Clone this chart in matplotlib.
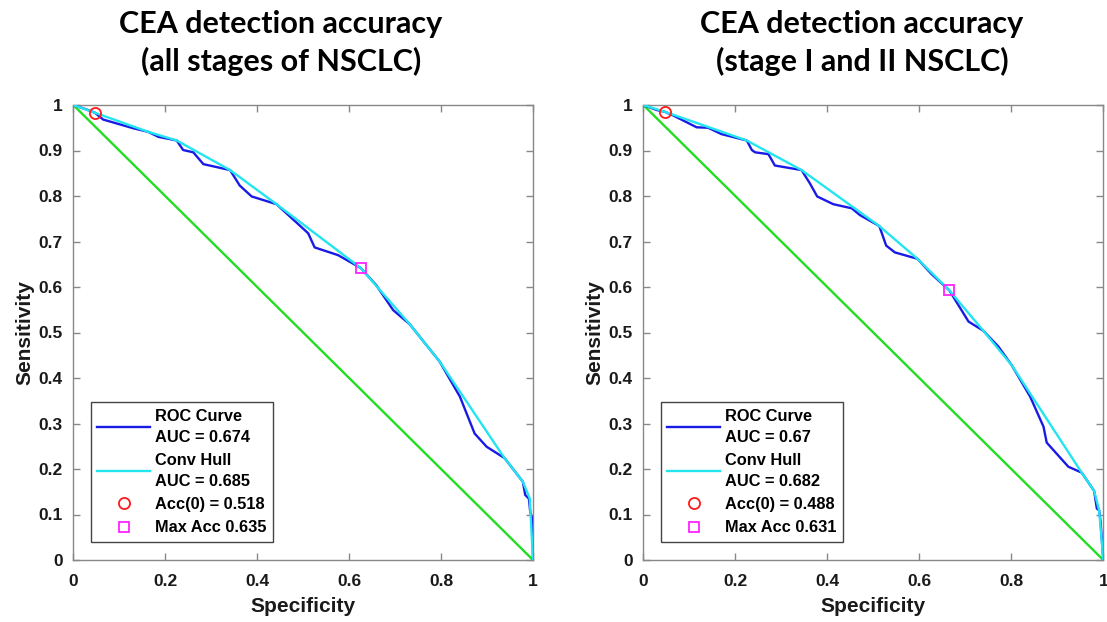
import matplotlib
matplotlib.use("Agg")
import matplotlib.pyplot as plt
from matplotlib.lines import Line2D

# ---------------- data ----------------
roc_x_all = [0.0, 0.029, 0.047, 0.065, 0.130, 0.163, 0.185, 0.225, 0.239, 0.261, 0.283,
             0.341, 0.362, 0.388, 0.442, 0.511, 0.525, 0.576, 0.625, 0.659, 0.696, 0.732,
             0.797, 0.841, 0.873, 0.899, 0.938, 0.978, 0.983, 0.991, 0.994, 0.999, 1.0]
roc_y_all = [1.0, 0.990, 0.983, 0.968, 0.949, 0.941, 0.930, 0.922, 0.901, 0.896, 0.870,
             0.857, 0.823, 0.799, 0.782, 0.718, 0.687, 0.670, 0.642, 0.604, 0.549, 0.518,
             0.436, 0.359, 0.278, 0.249, 0.224, 0.172, 0.143, 0.135, 0.106, 0.088, 0.0]
hull_x_all = [0.0, 0.047, 0.163, 0.225, 0.341, 0.442, 0.625, 0.732, 0.797, 0.938, 0.978, 0.993, 1.0]
hull_y_all = [1.0, 0.983, 0.941, 0.922, 0.857, 0.782, 0.642, 0.518, 0.436, 0.224, 0.172, 0.135, 0.0]
acc0_all = (0.047, 0.983)
maxacc_all = (0.625, 0.642)
labels_all = ["ROC Curve\nAUC = 0.674", "Conv Hull\nAUC = 0.685", "Acc(0) = 0.518", "Max Acc 0.635"]

roc_x_early = [0.0, 0.029, 0.047, 0.065, 0.116, 0.141, 0.170, 0.225, 0.236, 0.243, 0.272,
               0.286, 0.344, 0.362, 0.378, 0.413, 0.453, 0.471, 0.513, 0.528, 0.547, 0.596,
               0.627, 0.665, 0.707, 0.739, 0.772, 0.801, 0.841, 0.870, 0.877, 0.924, 0.953,
               0.980, 0.986, 0.991, 0.994, 1.0]
roc_y_early = [1.0, 0.989, 0.985, 0.977, 0.951, 0.950, 0.936, 0.922, 0.901, 0.896, 0.892,
               0.867, 0.857, 0.828, 0.799, 0.782, 0.773, 0.758, 0.734, 0.691, 0.676, 0.662,
               0.628, 0.593, 0.524, 0.504, 0.469, 0.428, 0.359, 0.293, 0.258, 0.205, 0.192,
               0.152, 0.113, 0.109, 0.084, 0.0]
hull_x_early = [0.0, 0.047, 0.225, 0.344, 0.513, 0.596, 0.665, 0.739, 0.801, 0.953, 0.980, 0.991, 1.0]
hull_y_early = [1.0, 0.985, 0.922, 0.857, 0.734, 0.662, 0.593, 0.504, 0.428, 0.192, 0.152, 0.109, 0.0]
acc0_early = (0.047, 0.985)
maxacc_early = (0.665, 0.593)
labels_early = ["ROC Curve\nAUC = 0.67", "Conv Hull\nAUC = 0.682", "Acc(0) = 0.488", "Max Acc 0.631"]

title_line1 = ["CEA detection accuracy", "CEA detection accuracy"]
title_line2 = ["(all stages of NSCLC)", "(stage I and II NSCLC)"]
x_ticks = [0, 0.2, 0.4, 0.6, 0.8, 1]
x_tick_labels = ["0", "0.2", "0.4", "0.6", "0.8", "1"]
y_ticks = [0, 0.1, 0.2, 0.3, 0.4, 0.5, 0.6, 0.7, 0.8, 0.9, 1]
y_tick_labels = ["0", "0.1", "0.2", "0.3", "0.4", "0.5", "0.6", "0.7", "0.8", "0.9", "1"]

# ---------------- styling ----------------
plt.rcParams['font.family'] = ['Liberation Sans', 'DejaVu Sans']
C_ROC = '#1a1ae6'
C_HULL = '#22e5f0'
C_DIAG = '#22dd22'
C_ACC0 = '#ff1a1a'
C_MAX = '#ff22ff'
SPINE = '#888888'
TXT = '#1a1a1a'

fig = plt.figure(figsize=(11.07, 6.22), dpi=100)
W, H = 1107, 622
positions = [(73.3, 533.0), (643.3, 1103.3)]
title_cx = [281, 862]

panels = [
    (roc_x_all, roc_y_all, hull_x_all, hull_y_all, acc0_all, maxacc_all, labels_all),
    (roc_x_early, roc_y_early, hull_x_early, hull_y_early, acc0_early, maxacc_early, labels_early),
]

for i, (rx, ry, hx, hy, a0, ma, labs) in enumerate(panels):
    x0, x1 = positions[i]
    ax = fig.add_axes([x0 / W, (H - 560) / H, (x1 - x0) / W, 455 / H])
    ax.plot([0, 1], [1, 0], color=C_DIAG, lw=1.7, zorder=2)
    ax.plot(rx, ry, color=C_ROC, lw=1.7, zorder=3)
    ax.plot(hx, hy, color=C_HULL, lw=1.7, zorder=4)
    ax.plot([a0[0]], [a0[1]], 'o', mfc='none', mec=C_ACC0, ms=8, mew=1.3, zorder=5)
    ax.plot([ma[0]], [ma[1]], 's', mfc='none', mec=C_MAX, ms=7, mew=1.3, zorder=5)
    ax.set_xlim(0, 1)
    ax.set_ylim(0, 1)
    ax.set_xticks(x_ticks)
    ax.set_xticklabels(x_tick_labels)
    ax.set_yticks(y_ticks)
    ax.set_yticklabels(y_tick_labels)
    ax.tick_params(direction='in', length=5, width=1, color=SPINE, top=True, right=True,
                   labelsize=12.5, labelcolor=TXT)
    ax.tick_params(axis='x', pad=10)
    ax.tick_params(axis='y', pad=7.5)
    for lab in ax.get_xticklabels() + ax.get_yticklabels():
        lab.set_fontweight('bold')
    for sp in ax.spines.values():
        sp.set_color(SPINE)
        sp.set_linewidth(1.0)
    ax.set_xlabel("Specificity", fontsize=15, fontweight='bold', color=TXT, labelpad=6)
    ax.set_ylabel("Sensitivity", fontsize=15, fontweight='bold', color=TXT, labelpad=3)

    handles = [
        Line2D([], [], color=C_ROC, lw=1.7),
        Line2D([], [], color=C_HULL, lw=1.7),
        Line2D([], [], ls='none', marker='o', mfc='none', mec=C_ACC0, ms=8, mew=1.3),
        Line2D([], [], ls='none', marker='s', mfc='none', mec=C_MAX, ms=7, mew=1.3),
    ]
    leg = ax.legend(handles, labs, loc='lower left', bbox_to_anchor=(0.038, 0.040),
                    borderaxespad=0, fancybox=False, framealpha=1, edgecolor='#444444',
                    prop={'family': 'Liberation Sans', 'weight': 'bold', 'size': 11.8},
                    handlelength=3.2, handletextpad=0.3, labelspacing=0.5,
                    borderpad=0.4)
    for t in leg.get_texts():
        t.set_linespacing(1.5)
    leg.get_frame().set_linewidth(1.0)

    fig.text(title_cx[i] / W, 1 - 33 / H, title_line1[i], ha='center', va='baseline',
             fontsize=22, fontweight='bold', family=['Lato', 'DejaVu Sans'], color='black')
    fig.text(title_cx[i] / W, 1 - 71 / H, title_line2[i], ha='center', va='baseline',
             fontsize=22, fontweight='bold', family=['Lato', 'DejaVu Sans'], color='black')

fig.savefig("out.png", dpi=100)
